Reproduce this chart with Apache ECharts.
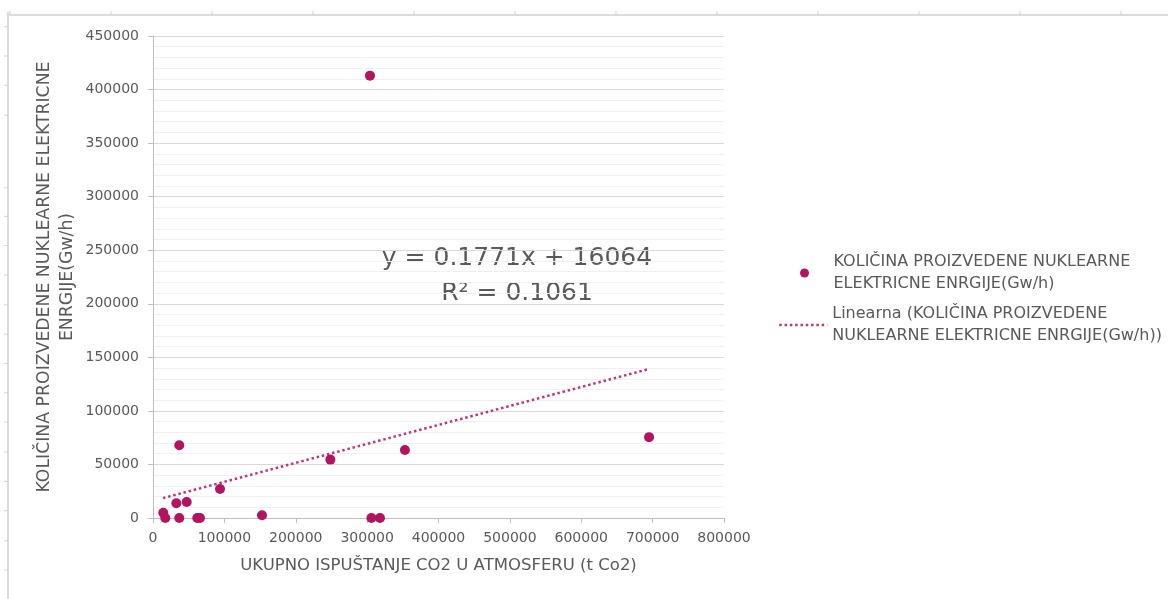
<!DOCTYPE html>
<html>
<head>
<meta charset="utf-8">
<script src="https://cdn.jsdelivr.net/npm/echarts@6/dist/echarts.min.js"></script>
<style>html,body{margin:0;padding:0;background:#fff;}#c{width:1168px;height:599px;}</style>
</head>
<body>
<div id="c"></div>
<script>
// Data
const xValues = [14400, 17200, 36800, 32700, 47200, 36800, 62000, 65800, 93900, 152700, 248500, 306000, 318000, 353000, 304000, 695000];
const yValues = [4950, 0, 68000, 13700, 15000, 0, 0, 0, 27000, 2500, 54500, 0, 0, 63500, 413000, 75500];
const trendX = [14000, 692000];
const trendY = [18550, 138600];
const seriesName = 'KOLIČINA PROIZVEDENE NUKLEARNE\nELEKTRICNE ENRGIJE(Gw/h)';
const trendName = 'Linearna (KOLIČINA PROIZVEDENE\nNUKLEARNE ELEKTRICNE ENRGIJE(Gw/h))';
const xAxisTitle = 'UKUPNO ISPUŠTANJE CO2 U ATMOSFERU (t Co2)';
const yAxisTitle = 'KOLIČINA PROIZVEDENE NUKLEARNE ELEKTRICNE\nENRGIJE(Gw/h)';
const equationText = 'y = 0.1771x + 16064\nR² = 0.1061';

const FONT = 'DejaVu Sans';
const TXT = '#595959';
const DOT = '#b2145f';
const TREND = '#c2337e';

const scatterData = xValues.map((x, i) => [x, yValues[i]]);
const trendData = trendX.map((x, i) => [x, trendY[i]]);

// decorative sheet frame (ruler-like border of the screenshot)
const frame = [];
frame.push({type:'line', shape:{x1:8, y1:15, x2:1168, y2:15}, style:{stroke:'#dcdcdc', lineWidth:2}, silent:true});
frame.push({type:'line', shape:{x1:8, y1:12, x2:8, y2:599}, style:{stroke:'#dcdcdc', lineWidth:2}, silent:true});
for (let x = 10; x < 1168; x += 101) {
  frame.push({type:'line', shape:{x1:x, y1:11, x2:x, y2:15}, style:{stroke:'#d0d0d0', lineWidth:1}, silent:true});
}
[26.7, 56, 85.3, 115.3, 187.8, 216.3, 245.6, 274.9, 304.9, 334.2, 363.5, 392.8, 422.1, 452.1, 481.4, 510.7, 540.7, 570].forEach(y => {
  frame.push({type:'line', shape:{x1:4, y1:y, x2:8, y2:y}, style:{stroke:'#d0d0d0', lineWidth:1}, silent:true});
});

const plain = v => String(v);

const chart = echarts.init(document.getElementById('c'));
chart.setOption({
  animation: false,
  backgroundColor: '#fff',
  textStyle: {fontFamily: FONT},
  grid: {left: 153, right: 444, top: 36, bottom: 81, containLabel: false},
  xAxis: {
    type: 'value', min: 0, max: 800000, interval: 100000,
    name: xAxisTitle, nameLocation: 'middle', nameGap: 39,
    nameTextStyle: {color: TXT, fontSize: 16.5, fontFamily: FONT},
    axisLine: {show: true, lineStyle: {color: '#bfbfbf', width: 1}},
    axisTick: {show: true, length: 5, lineStyle: {color: '#bfbfbf'}},
    axisLabel: {color: TXT, fontSize: 14, margin: 13, fontFamily: FONT, formatter: plain},
    splitLine: {show: false}
  },
  yAxis: {
    type: 'value', min: 0, max: 450000, interval: 50000,
    name: yAxisTitle, nameLocation: 'middle', nameGap: 74,
    nameTextStyle: {color: TXT, fontSize: 17.3, lineHeight: 23, fontFamily: FONT, align: 'center'},
    axisLine: {show: true, lineStyle: {color: '#bfbfbf', width: 1}},
    axisTick: {show: true, length: 5, inside: false, lineStyle: {color: '#bfbfbf'}},
    axisLabel: {color: TXT, fontSize: 14, margin: 14, fontFamily: FONT, formatter: plain},
    splitLine: {show: true, lineStyle: {color: '#d9d9d9', width: 1}},
    minorTick: {show: false, splitNumber: 5},
    minorSplitLine: {show: true, lineStyle: {color: '#f0f0f0', width: 1}}
  },
  legend: [
    {
      data: [{name: seriesName, icon: 'circle'}],
      left: 800, top: 240, padding: 0,
      itemWidth: 48, itemHeight: 9,
      textStyle: {color: TXT, fontSize: 16, lineHeight: 22, fontFamily: FONT, padding: [22, 0, 0, 0]}
    },
    {
      data: [{name: trendName}],
      left: 778, top: 292, padding: 0,
      itemWidth: 48, itemHeight: 9,
      itemStyle: {color: 'rgba(0,0,0,0)', opacity: 0, borderWidth: 0},
      lineStyle: {color: TREND, width: 2.5, type: [2.5, 2.8]},
      textStyle: {color: TXT, fontSize: 16, lineHeight: 22, fontFamily: FONT, padding: [22, 0, 0, 0]}
    }
  ],
  series: [
    {
      name: seriesName, type: 'scatter', data: scatterData,
      symbol: 'circle', symbolSize: 10,
      itemStyle: {color: DOT, opacity: 1}, z: 3
    },
    {
      name: trendName, type: 'line', data: trendData,
      showSymbol: false, symbol: 'none',
      lineStyle: {color: TREND, width: 2.5, type: [2.5, 2.8]},
      itemStyle: {color: TREND}, z: 2
    }
  ],
  graphic: frame.concat([
    {
      type: 'text', x: 517, y: 276, silent: true,
      style: {text: equationText, align: 'center', verticalAlign: 'middle',
        font: '25px "DejaVu Sans"', lineHeight: 35, fill: TXT}
    }
  ])
});
</script>
</body>
</html>
